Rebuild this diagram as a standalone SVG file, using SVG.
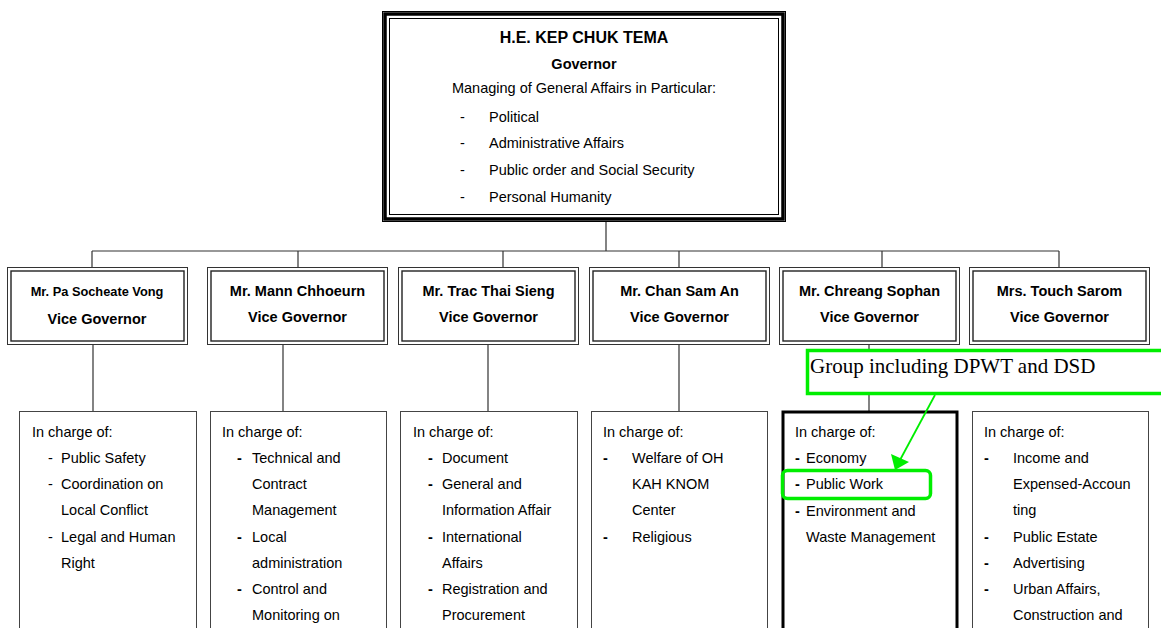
<svg xmlns="http://www.w3.org/2000/svg" width="1161" height="628" viewBox="0 0 1161 628">
<style>
text{font-family:"Liberation Sans",Arial,sans-serif;fill:#000}
.r{font-size:14.5px}
.b{font-size:14.5px;font-weight:bold}
.c{text-anchor:middle}
.ln{stroke:#333;stroke-width:1.2;fill:none}
.vo{fill:#fff;stroke:#333;stroke-width:1}
.vi{fill:none;stroke:#222;stroke-width:1.4}
.bx{fill:#fff;stroke:#444;stroke-width:1}
.g{stroke:#00ee00;stroke-width:3.5;fill:none}
</style>
<rect width="1161" height="628" fill="#fff"/>
<g id="connectors">
<path class="ln" d="M606,222V251M92,251H1059M92,251V267M298,251V267M503,251V267M679,251V267M882,251V267M1059,251V267"/>
<path class="ln" d="M93,345V411M283,345V411M488,345V411M679,345V411M869,345V411"/>
</g>
<g id="governor">
<rect x="382.5" y="11.5" width="403" height="210" fill="#fff" stroke="#000" stroke-width="1"/>
<rect x="385" y="14" width="398" height="205" fill="none" stroke="#000" stroke-width="3.5"/>
<rect x="389.5" y="18.5" width="389" height="196" fill="none" stroke="#000" stroke-width="1"/>
<text class="c" x="584" y="43" style="font-size:16px;font-weight:bold">H.E. KEP CHUK TEMA</text>
<text class="b c" x="584" y="69">Governor</text>
<text class="r c" x="584" y="93">Managing of General Affairs in Particular:</text>
<text class="r" x="460" y="122">-</text><text class="r" x="489" y="122">Political</text>
<text class="r" x="460" y="148">-</text><text class="r" x="489" y="148">Administrative Affairs</text>
<text class="r" x="460" y="175">-</text><text class="r" x="489" y="175">Public order and Social Security</text>
<text class="r" x="460" y="202">-</text><text class="r" x="489" y="202">Personal Humanity</text>
</g>
<g id="vg1">
<rect class="vo" x="7.5" y="267.5" width="180" height="77"/>
<rect class="vi" x="11" y="271" width="173" height="70"/>
<text class="c" x="97" y="296" style="font-size:12.8px;font-weight:bold">Mr. Pa Socheate Vong</text>
<text class="b c" x="97" y="324">Vice Governor</text>
</g>
<g id="vg2">
<rect class="vo" x="207.5" y="267.5" width="180" height="77"/>
<rect class="vi" x="211" y="271" width="173" height="70"/>
<text class="b c" x="297.5" y="296">Mr. Mann Chhoeurn</text>
<text class="b c" x="297.5" y="322">Vice Governor</text>
</g>
<g id="vg3">
<rect class="vo" x="398.5" y="267.5" width="180" height="77"/>
<rect class="vi" x="402" y="271" width="173" height="70"/>
<text class="b c" x="488.5" y="296">Mr. Trac Thai Sieng</text>
<text class="b c" x="488.5" y="322">Vice Governor</text>
</g>
<g id="vg4">
<rect class="vo" x="589.5" y="267.5" width="180" height="77"/>
<rect class="vi" x="593" y="271" width="173" height="70"/>
<text class="b c" x="679.5" y="296">Mr. Chan Sam An</text>
<text class="b c" x="679.5" y="322">Vice Governor</text>
</g>
<g id="vg5">
<rect class="vo" x="779.5" y="267.5" width="180" height="77"/>
<rect class="vi" x="783" y="271" width="173" height="70"/>
<text class="b c" x="869.5" y="296">Mr. Chreang Sophan</text>
<text class="b c" x="869.5" y="322">Vice Governor</text>
</g>
<g id="vg6">
<rect class="vo" x="969.5" y="267.5" width="180" height="77"/>
<rect class="vi" x="973" y="271" width="173" height="70"/>
<text class="b c" x="1059.5" y="296">Mrs. Touch Sarom</text>
<text class="b c" x="1059.5" y="322">Vice Governor</text>
</g>
<g id="duties1">
<rect class="bx" x="19.5" y="411.5" width="177" height="240"/>
<text class="r" x="32" y="437">In charge of:</text>
<text class="r" x="48" y="463">-</text><text class="r" x="61" y="463">Public Safety</text>
<text class="r" x="48" y="489">-</text><text class="r" x="61" y="489">Coordination on</text>
<text class="r" x="61" y="515">Local Conflict</text>
<text class="r" x="48" y="542">-</text><text class="r" x="61" y="542">Legal and Human</text>
<text class="r" x="61" y="568">Right</text>
</g>
<g id="duties2">
<rect class="bx" x="210.5" y="411.5" width="176" height="240"/>
<text class="r" x="222" y="437">In charge of:</text>
<text class="b" x="237" y="463">-</text><text class="r" x="252" y="463">Technical and</text>
<text class="r" x="252" y="489">Contract</text>
<text class="r" x="252" y="515">Management</text>
<text class="b" x="237" y="542">-</text><text class="r" x="252" y="542">Local</text>
<text class="r" x="252" y="568">administration</text>
<text class="b" x="237" y="594">-</text><text class="r" x="252" y="594">Control and</text>
<text class="r" x="252" y="620">Monitoring on</text>
</g>
<g id="duties3">
<rect class="bx" x="400.5" y="411.5" width="177" height="240"/>
<text class="r" x="413" y="437">In charge of:</text>
<text class="b" x="428" y="463">-</text><text class="r" x="442" y="463">Document</text>
<text class="b" x="428" y="489">-</text><text class="r" x="442" y="489">General and</text>
<text class="r" x="442" y="515">Information Affair</text>
<text class="b" x="428" y="542">-</text><text class="r" x="442" y="542">International</text>
<text class="r" x="442" y="568">Affairs</text>
<text class="b" x="428" y="594">-</text><text class="r" x="442" y="594">Registration and</text>
<text class="r" x="442" y="620">Procurement</text>
</g>
<g id="duties4">
<rect class="bx" x="591.5" y="411.5" width="176" height="240"/>
<text class="r" x="603" y="437">In charge of:</text>
<text class="b" x="603" y="463">-</text><text class="r" x="632" y="463">Welfare of OH</text>
<text class="r" x="632" y="489">KAH KNOM</text>
<text class="r" x="632" y="515">Center</text>
<text class="b" x="603" y="542">-</text><text class="r" x="632" y="542">Religious</text>
</g>
<g id="duties5">
<rect x="783" y="412" width="174" height="240" fill="#fff" stroke="#000" stroke-width="3"/>
<text class="r" x="795" y="437">In charge of:</text>
<text class="b" x="795" y="463">-</text><text class="r" x="806" y="463">Economy</text>
<text class="b" x="795" y="489">-</text><text class="r" x="806" y="489">Public Work</text>
<text class="b" x="795" y="516">-</text><text class="r" x="806" y="516">Environment and</text>
<text class="r" x="806" y="542">Waste Management</text>
</g>
<g id="duties6">
<rect class="bx" x="972.5" y="411.5" width="176" height="240"/>
<text class="r" x="984" y="437">In charge of:</text>
<text class="b" x="984" y="463">-</text><text class="r" x="1013" y="463">Income and</text>
<text class="r" x="1013" y="489">Expensed-Accoun</text>
<text class="r" x="1013" y="515">ting</text>
<text class="b" x="984" y="542">-</text><text class="r" x="1013" y="542">Public Estate</text>
<text class="b" x="984" y="568">-</text><text class="r" x="1013" y="568">Advertising</text>
<text class="b" x="984" y="594">-</text><text class="r" x="1013" y="594">Urban Affairs,</text>
<text class="r" x="1013" y="620">Construction and</text>
</g>
<g id="annotation">
<rect x="807.5" y="350.5" width="400" height="43" fill="#fff" stroke="#00ee00" stroke-width="3.5"/>
<text x="810" y="373" style="font-family:'Liberation Serif','Times New Roman',serif;font-size:21px">Group including DPWT and DSD</text>
<rect class="g" x="782.5" y="470.5" width="148" height="28" rx="5"/>
<line x1="935" y1="395" x2="900" y2="460" stroke="#00ee00" stroke-width="1.8"/>
<polygon points="895,470 891,454 909,462" fill="#00ee00"/>
</g>
</svg>
